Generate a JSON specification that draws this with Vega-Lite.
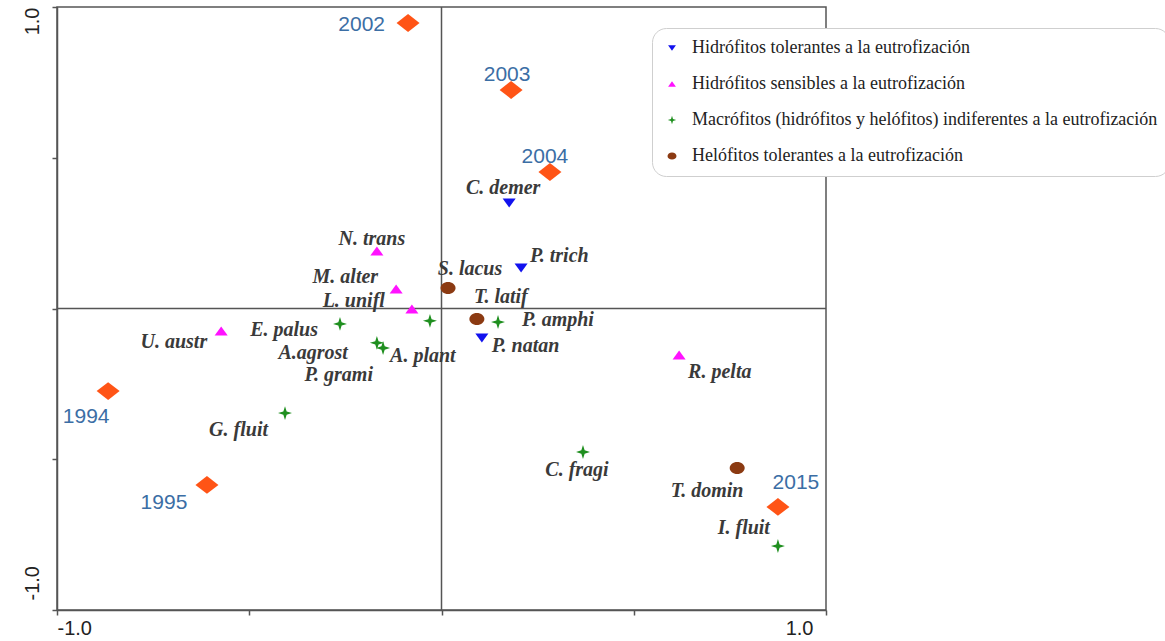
{
  "$schema": "https://vega.github.io/schema/vega-lite/v6.json",
  "width": 769,
  "height": 603,
  "autosize": {"type": "none"},
  "padding": {"left": 57, "top": 7, "right": 339, "bottom": 31},
  "background": "white",
  "datasets": {
    "especies": [
      {"especie": "C. demer", "grupo": "Hidrófitos tolerantes a la eutrofización", "x": 0.176, "y": 0.350},
      {"especie": "P. trich", "grupo": "Hidrófitos tolerantes a la eutrofización", "x": 0.207, "y": 0.134},
      {"especie": "P. natan", "grupo": "Hidrófitos tolerantes a la eutrofización", "x": 0.105, "y": -0.098},
      {"especie": "N. trans", "grupo": "Hidrófitos sensibles a la eutrofización", "x": -0.168, "y": 0.191},
      {"especie": "M. alter", "grupo": "Hidrófitos sensibles a la eutrofización", "x": -0.118, "y": 0.065},
      {"especie": "L. unifl", "grupo": "Hidrófitos sensibles a la eutrofización", "x": -0.077, "y": -0.002},
      {"especie": "U. austr", "grupo": "Hidrófitos sensibles a la eutrofización", "x": -0.573, "y": -0.075},
      {"especie": "R. pelta", "grupo": "Hidrófitos sensibles a la eutrofización", "x": 0.618, "y": -0.154},
      {"especie": "E. palus", "grupo": "Macrófitos (hidrófitos y helófitos) indiferentes a la eutrofización", "x": -0.264, "y": -0.051},
      {"especie": "A.agrost", "grupo": "Macrófitos (hidrófitos y helófitos) indiferentes a la eutrofización", "x": -0.168, "y": -0.114},
      {"especie": "A. plant", "grupo": "Macrófitos (hidrófitos y helófitos) indiferentes a la eutrofización", "x": -0.152, "y": -0.131},
      {"especie": "P. grami", "grupo": "Macrófitos (hidrófitos y helófitos) indiferentes a la eutrofización", "x": -0.030, "y": -0.041},
      {"especie": "P. amphi", "grupo": "Macrófitos (hidrófitos y helófitos) indiferentes a la eutrofización", "x": 0.147, "y": -0.045},
      {"especie": "G. fluit", "grupo": "Macrófitos (hidrófitos y helófitos) indiferentes a la eutrofización", "x": -0.407, "y": -0.347},
      {"especie": "C. fragi", "grupo": "Macrófitos (hidrófitos y helófitos) indiferentes a la eutrofización", "x": 0.368, "y": -0.476},
      {"especie": "I. fluit", "grupo": "Macrófitos (hidrófitos y helófitos) indiferentes a la eutrofización", "x": 0.875, "y": -0.788},
      {"especie": "S. lacus", "grupo": "Helófitos tolerantes a la eutrofización", "x": 0.017, "y": 0.068},
      {"especie": "T. latif", "grupo": "Helófitos tolerantes a la eutrofización", "x": 0.092, "y": -0.035},
      {"especie": "T. domin", "grupo": "Helófitos tolerantes a la eutrofización", "x": 0.769, "y": -0.529}
    ],
    "anios": [
      {"anio": "1994", "x": -0.867, "y": -0.274},
      {"anio": "1995", "x": -0.610, "y": -0.585},
      {"anio": "2002", "x": -0.087, "y": 0.947},
      {"anio": "2003", "x": 0.181, "y": 0.725},
      {"anio": "2004", "x": 0.282, "y": 0.453},
      {"anio": "2015", "x": 0.875, "y": -0.658}
    ],
    "ejes": [
      {"eje": "v", "x": 0, "y": -1},
      {"eje": "v", "x": 0, "y": 1},
      {"eje": "h", "x": -1, "y": 0},
      {"eje": "h", "x": 1, "y": 0}
    ]
  },
  "encoding": {
    "x": {
      "field": "x", "type": "quantitative",
      "scale": {"domain": [-1, 1], "nice": false, "zero": false},
      "axis": {
        "values": [-1, -0.5, 0, 0.5, 1],
        "labelExpr": "datum.value == -1 ? '-1.0' : (datum.value == 1 ? '1.0' : '')",
        "title": null, "grid": false,
        "domainColor": "#555", "domainWidth": 1.5,
        "tickColor": "#555", "tickWidth": 1.5, "tickSize": 5,
        "labelFont": "Liberation Sans", "labelFontSize": 20, "labelColor": "#222",
        "labelPadding": 3, "labelBaseline": "top", "labelFlush": false, "labelOverlap": false,
        "labelAlign": {"condition": {"test": "datum.value < 0", "value": "left"}, "value": "right"},
        "labelOffset": {"condition": {"test": "datum.value < 0", "value": 0}, "value": -13}
      }
    },
    "y": {
      "field": "y", "type": "quantitative",
      "scale": {"domain": [-1, 1], "nice": false, "zero": false},
      "axis": {
        "values": [-1, -0.5, 0, 0.5, 1],
        "labelExpr": "datum.value == -1 ? '-1.0' : (datum.value == 1 ? '1.0' : '')",
        "title": null, "grid": false,
        "domainColor": "#555", "domainWidth": 1.5,
        "tickColor": "#555", "tickWidth": 1.5, "tickSize": 5,
        "labelFont": "Liberation Sans", "labelFontSize": 20, "labelColor": "#222",
        "labelAngle": 270, "labelPadding": 10, "labelBaseline": "bottom",
        "labelFlush": false, "labelOverlap": false,
        "labelAlign": {"condition": {"test": "datum.value > 0", "value": "right"}, "value": "left"},
        "labelOffset": {"condition": {"test": "datum.value > 0", "value": 0}, "value": -10}
      }
    }
  },
  "layer": [
    {
      "data": {"name": "ejes"},
      "mark": {"type": "line", "color": "#555", "strokeWidth": 1.5},
      "encoding": {"detail": {"field": "eje", "type": "nominal"}}
    },
    {
      "data": {"name": "especies"},
      "mark": {"type": "point", "filled": true, "size": 225, "opacity": 1, "strokeWidth": 0},
      "encoding": {
        "color": {
          "field": "grupo", "type": "nominal", "title": null,
          "scale": {
            "domain": ["Hidrófitos tolerantes a la eutrofización", "Hidrófitos sensibles a la eutrofización", "Macrófitos (hidrófitos y helófitos) indiferentes a la eutrofización", "Helófitos tolerantes a la eutrofización"],
            "range": ["#1212ee", "#ff12ff", "#1f8f1f", "#8b3a12"]
          }
        },
        "shape": {
          "field": "grupo", "type": "nominal", "title": null,
          "scale": {
            "domain": ["Hidrófitos tolerantes a la eutrofización", "Hidrófitos sensibles a la eutrofización", "Macrófitos (hidrófitos y helófitos) indiferentes a la eutrofización", "Helófitos tolerantes a la eutrofización"],
            "range": ["M-0.87,-0.6L0.87,-0.6L0,0.6Z", "M-0.87,0.6L0.87,0.6L0,-0.6Z", "M0,-0.93L0.22,-0.22L0.93,0L0.22,0.22L0,0.93L-0.22,0.22L-0.93,0L-0.22,-0.22Z", "M-1,0A1,0.8,0,1,1,1,0A1,0.8,0,1,1,-1,0Z"]
          }
        }
      }
    },
    {
      "data": {"name": "especies"},
      "encoding": {"text": {"field": "especie", "type": "nominal"}},
      "layer": [
        {"transform": [{"filter": {"field": "especie", "equal": "C. demer"}}], "mark": {"type": "text", "align": "center", "dx": -6, "dy": -15}},
        {"transform": [{"filter": {"field": "especie", "equal": "P. trich"}}], "mark": {"type": "text", "align": "left", "dx": 9, "dy": -12}},
        {"transform": [{"filter": {"field": "especie", "equal": "P. natan"}}], "mark": {"type": "text", "align": "left", "dx": 10, "dy": 8}},
        {"transform": [{"filter": {"field": "especie", "equal": "N. trans"}}], "mark": {"type": "text", "align": "center", "dx": -5, "dy": -12}},
        {"transform": [{"filter": {"field": "especie", "equal": "M. alter"}}], "mark": {"type": "text", "align": "right", "dx": -18, "dy": -12}},
        {"transform": [{"filter": {"field": "especie", "equal": "L. unifl"}}], "mark": {"type": "text", "align": "right", "dx": -27, "dy": -8}},
        {"transform": [{"filter": {"field": "especie", "equal": "U. austr"}}], "mark": {"type": "text", "align": "right", "dx": -14, "dy": 11}},
        {"transform": [{"filter": {"field": "especie", "equal": "R. pelta"}}], "mark": {"type": "text", "align": "left", "dx": 9, "dy": 17}},
        {"transform": [{"filter": {"field": "especie", "equal": "E. palus"}}], "mark": {"type": "text", "align": "right", "dx": -22, "dy": 6}},
        {"transform": [{"filter": {"field": "especie", "equal": "A.agrost"}}], "mark": {"type": "text", "align": "right", "dx": -29, "dy": 10}},
        {"transform": [{"filter": {"field": "especie", "equal": "A. plant"}}], "mark": {"type": "text", "align": "left", "dx": 7, "dy": 8}},
        {"transform": [{"filter": {"field": "especie", "equal": "P. grami"}}], "mark": {"type": "text", "align": "right", "dx": -57, "dy": 54}},
        {"transform": [{"filter": {"field": "especie", "equal": "P. amphi"}}], "mark": {"type": "text", "align": "left", "dx": 24, "dy": -2}},
        {"transform": [{"filter": {"field": "especie", "equal": "G. fluit"}}], "mark": {"type": "text", "align": "right", "dx": -17, "dy": 17}},
        {"transform": [{"filter": {"field": "especie", "equal": "C. fragi"}}], "mark": {"type": "text", "align": "center", "dx": -6, "dy": 18}},
        {"transform": [{"filter": {"field": "especie", "equal": "I. fluit"}}], "mark": {"type": "text", "align": "right", "dx": -8, "dy": -18}},
        {"transform": [{"filter": {"field": "especie", "equal": "S. lacus"}}], "mark": {"type": "text", "align": "center", "dx": 22, "dy": -19}},
        {"transform": [{"filter": {"field": "especie", "equal": "T. latif"}}], "mark": {"type": "text", "align": "center", "dx": 24, "dy": -22}},
        {"transform": [{"filter": {"field": "especie", "equal": "T. domin"}}], "mark": {"type": "text", "align": "center", "dx": -30, "dy": 23}}
      ]
    },
    {
      "data": {"name": "anios"},
      "mark": {"type": "point", "filled": true, "size": 529, "opacity": 1, "strokeWidth": 0, "color": "#ff5416", "shape": "M-1,0L0,-0.78L1,0L0,0.78Z"}
    },
    {
      "data": {"name": "anios"},
      "encoding": {"text": {"field": "anio", "type": "nominal"}},
      "layer": [
        {"transform": [{"filter": {"field": "anio", "equal": "2002"}}], "mark": {"type": "text", "font": "Liberation Sans", "fontStyle": "normal", "fontWeight": "normal", "fontSize": 21, "color": "#3b6ea5", "align": "right", "dx": -23, "dy": 2}},
        {"transform": [{"filter": {"field": "anio", "equal": "2003"}}], "mark": {"type": "text", "font": "Liberation Sans", "fontStyle": "normal", "fontWeight": "normal", "fontSize": 21, "color": "#3b6ea5", "align": "center", "dx": -4, "dy": -15}},
        {"transform": [{"filter": {"field": "anio", "equal": "2004"}}], "mark": {"type": "text", "font": "Liberation Sans", "fontStyle": "normal", "fontWeight": "normal", "fontSize": 21, "color": "#3b6ea5", "align": "center", "dx": -5, "dy": -15}},
        {"transform": [{"filter": {"field": "anio", "equal": "1994"}}], "mark": {"type": "text", "font": "Liberation Sans", "fontStyle": "normal", "fontWeight": "normal", "fontSize": 21, "color": "#3b6ea5", "align": "center", "dx": -22, "dy": 26}},
        {"transform": [{"filter": {"field": "anio", "equal": "1995"}}], "mark": {"type": "text", "font": "Liberation Sans", "fontStyle": "normal", "fontWeight": "normal", "fontSize": 21, "color": "#3b6ea5", "align": "center", "dx": -43, "dy": 18}},
        {"transform": [{"filter": {"field": "anio", "equal": "2015"}}], "mark": {"type": "text", "font": "Liberation Sans", "fontStyle": "normal", "fontWeight": "normal", "fontSize": 21, "color": "#3b6ea5", "align": "center", "dx": 18, "dy": -24}}
      ]
    }
  ],
  "config": {
    "view": {"stroke": "#555", "strokeWidth": 1.5},
    "text": {"font": "Liberation Serif", "fontStyle": "italic", "fontWeight": "bold", "fontSize": 20, "color": "#3a3a3a", "baseline": "middle"},
    "legend": {
      "orient": "none", "legendX": 595, "legendY": 21,
      "fillColor": "white", "strokeColor": "#cfcfcf", "cornerRadius": 14, "padding": 11,
      "labelFont": "Liberation Serif", "labelFontSize": 18, "labelColor": "#222", "labelLimit": 0,
      "symbolSize": 81, "symbolStrokeWidth": 0, "rowPadding": 18, "labelOffset": 11
    }
  }
}
